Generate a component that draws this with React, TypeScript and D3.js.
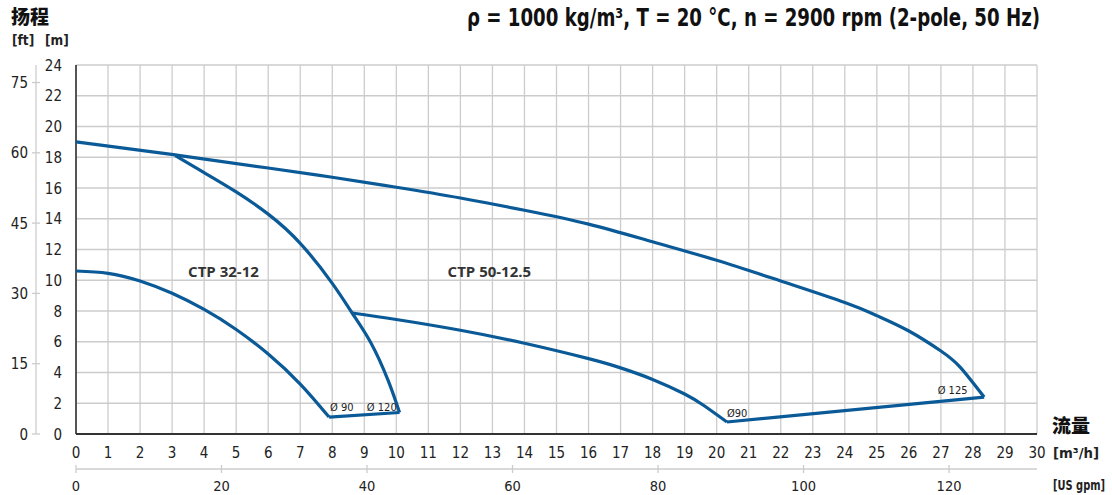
import React from 'react';
import * as d3 from 'd3';

// flow [m3/h] and head [m]
const q3212d90 = [0, 1, 2, 3, 4, 5, 6, 7, 7.9];
const h3212d90 = [10.6, 10.45, 9.95, 9.15, 8.1, 6.8, 5.2, 3.25, 1.1];

// the 0..3.1 part of this curve lies under the Ø125 curve of CTP 50-12.5
const q3212d120 = [3.1, 4, 5, 6, 7, 8, 8.62, 9.2, 9.74, 10.1];
const h3212d120 = [18.1, 17.0, 15.75, 14.3, 12.4, 9.8, 7.87, 5.95, 3.5, 1.4];

const q5012d90 = [8.62, 10, 12, 14, 16, 17, 18, 19, 19.6, 20.32];
const h5012d90 = [7.87, 7.45, 6.75, 5.9, 4.9, 4.3, 3.55, 2.6, 1.85, 0.78];

const q5012d125 = [0, 3.1, 6, 8, 10, 12, 14, 16, 18, 20, 22, 24, 25, 26, 27, 27.6, 28.35];
const h5012d125 = [19.0, 18.15, 17.3, 16.7, 16.05, 15.35, 14.55, 13.65, 12.5, 11.3, 9.95, 8.55, 7.7, 6.7, 5.4, 4.35, 2.4];

// end-of-curve connectors (min/max impeller)
const q3212ends = [7.9, 10.1];
const h3212ends = [1.1, 1.4];
const q5012ends = [20.32, 28.35];
const h5012ends = [0.78, 2.4];

const xTicks = d3.range(0, 31, 1);
const yTicks = d3.range(0, 25, 2);
const ftTicks = [0, 15, 30, 45, 60, 75];
const gpmTicks = [0, 20, 40, 60, 80, 100, 120];

const modelLabels = [
  { text: 'CTP 32-12', q: 3.5, h: 10.2 },
  { text: 'CTP 50-12.5', q: 11.6, h: 10.2 },
];
const diaLabels = [
  { text: 'Ø 90', q: 7.93, h: 1.5 },
  { text: 'Ø 120', q: 9.08, h: 1.5 },
  { text: 'Ø90', q: 20.32, h: 1.12 },
  { text: 'Ø 125', q: 26.9, h: 2.62 },
];

const M_TO_FT = 3.28084;
const M3H_TO_GPM = 4.40287;

const FONT = "'DejaVu Sans Condensed', 'Liberation Sans Narrow', sans-serif";
const CJK = "'Noto Sans CJK SC', sans-serif";
const BLUE = '#0b5a98';
const GRID = '#cccccc';
const TEXT = '#222';

export default function App() {
  const width = 1112;
  const height = 495;
  const x = d3.scaleLinear().domain([0, 30]).range([76, 1037]);
  const y = d3.scaleLinear().domain([0, 24]).range([434, 65]);
  const yFt = d3.scaleLinear().domain([0, 24 * M_TO_FT]).range([434, 65]);
  const xGpm = d3.scaleLinear().domain([0, 30 * M3H_TO_GPM]).range([76, 1037]);

  const line = d3.line<[number, number]>()
    .x(d => x(d[0]))
    .y(d => y(d[1]))
    .curve(d3.curveNatural);
  const straight = d3.line<[number, number]>()
    .x(d => x(d[0]))
    .y(d => y(d[1]));

  const zip = (qs: number[], hs: number[]) => qs.map((q, i) => [q, hs[i]] as [number, number]);

  const curves = [
    line(zip(q3212d90, h3212d90)),
    line(zip(q3212d120, h3212d120)),
    line(zip(q5012d90, h5012d90)),
    line(zip(q5012d125, h5012d125)),
    straight(zip(q3212ends, h3212ends)),
    straight(zip(q5012ends, h5012ends)),
  ];

  return (
    <svg width={width} height={height} style={{ position: 'absolute', left: 0, top: 0 }}>
      <rect width={width} height={height} fill="#fff" />

      {/* grid */}
      {xTicks.map(t => (
        <line key={'gx' + t} x1={x(t)} x2={x(t)} y1={y(24)} y2={y(0)} stroke={GRID} strokeWidth={1.3} />
      ))}
      {yTicks.map(t => (
        <line key={'gy' + t} x1={x(0)} x2={x(30)} y1={y(t)} y2={y(t)} stroke={GRID} strokeWidth={1.3} />
      ))}

      {/* frame */}
      <line x1={x(0)} x2={x(0)} y1={y(24)} y2={y(0)} stroke="#333" strokeWidth={1.6} />
      <line x1={x(0)} x2={x(30)} y1={y(0)} y2={y(0)} stroke="#333" strokeWidth={2} />

      {/* curves */}
      {curves.map((d, i) => (
        <path key={'c' + i} d={d || ''} fill="none" stroke={BLUE} strokeWidth={3.2} strokeLinejoin="round" />
      ))}

      {/* m axis labels */}
      {yTicks.map(t => (
        <text key={'ly' + t} x={62} y={y(t) + 5.5} textAnchor="end" fontFamily={FONT} fontSize={15} fill={TEXT}>{t}</text>
      ))}

      {/* ft axis */}
      <line x1={36} x2={36} y1={y(24)} y2={y(0)} stroke={GRID} strokeWidth={1.3} />
      {ftTicks.map(t => (
        <g key={'ft' + t}>
          <line x1={32} x2={40} y1={yFt(t)} y2={yFt(t)} stroke={GRID} strokeWidth={1.3} />
          <text x={28} y={yFt(t) + 5.5} textAnchor="end" fontFamily={FONT} fontSize={15} fill={TEXT}>{t}</text>
        </g>
      ))}

      {/* m3/h labels */}
      {xTicks.map(t => (
        <text key={'lx' + t} x={x(t)} y={458} textAnchor="middle" fontFamily={FONT} fontSize={15} fill={TEXT}>{t}</text>
      ))}

      {/* gpm axis */}
      <line x1={x(0)} x2={x(30)} y1={469} y2={469} stroke={GRID} strokeWidth={1.3} />
      {gpmTicks.map(t => (
        <g key={'g' + t}>
          <line x1={xGpm(t)} x2={xGpm(t)} y1={465} y2={473} stroke={GRID} strokeWidth={1.3} />
          <text x={xGpm(t)} y={491} textAnchor="middle" fontFamily={FONT} fontSize={14.5} fill={TEXT}>{t}</text>
        </g>
      ))}

      {/* curve labels */}
      {modelLabels.map(l => (
        <text key={l.text} x={x(l.q)} y={y(l.h)} fontFamily="'Open Sans', 'DejaVu Sans', sans-serif" fontWeight={700} fontSize={15} fill="#333">{l.text}</text>
      ))}
      {diaLabels.map(l => (
        <text key={l.text + l.q} x={x(l.q)} y={y(l.h)} fontFamily={FONT} fontSize={11} fill={TEXT}>{l.text}</text>
      ))}

      {/* titles */}
      <text x={1040} y={26} textAnchor="end" fontFamily={FONT} fontWeight={700} fontSize={25} fill="#111"
        textLength={573} lengthAdjust="spacingAndGlyphs">
        ρ = 1000 kg/m³, T = 20 °C, n = 2900 rpm (2-pole, 50 Hz)
      </text>
      <text x={11} y={24} fontFamily={CJK} fontWeight={900} fontSize={19} fill="#111">扬程</text>
      <text x={12} y={45} fontFamily={FONT} fontWeight={700} fontSize={13.5} fill={TEXT}>[ft]</text>
      <text x={45} y={45} fontFamily={FONT} fontWeight={700} fontSize={13.5} fill={TEXT}>[m]</text>
      <text x={1052} y={433} fontFamily={CJK} fontWeight={900} fontSize={19} fill="#111">流量</text>
      <text x={1053} y={458} fontFamily={FONT} fontWeight={700} fontSize={13.5} fill={TEXT}
        textLength={46} lengthAdjust="spacingAndGlyphs">[m³/h]</text>
      <text x={1053} y={490} fontFamily={FONT} fontWeight={700} fontSize={13.5} fill={TEXT}
        textLength={52} lengthAdjust="spacingAndGlyphs">[US gpm]</text>
    </svg>
  );
}
